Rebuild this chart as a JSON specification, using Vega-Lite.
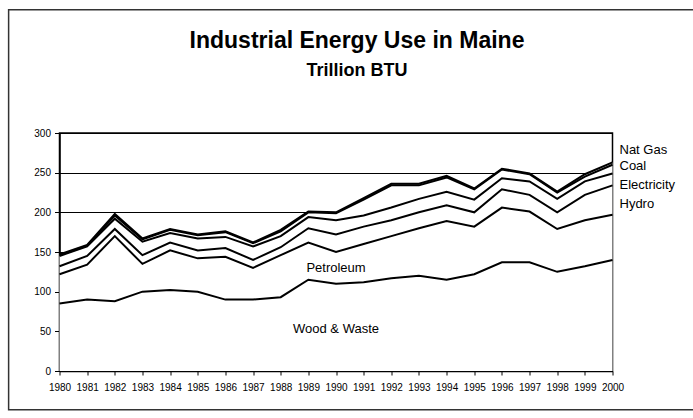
{
  "$schema": "https://vega.github.io/schema/vega-lite/v6.json",
  "width": 553,
  "height": 238,
  "autosize": {"type": "none"},
  "padding": {"left": 59.5, "top": 133, "right": 80.5, "bottom": 47},
  "background": "white",
  "title": {
    "text": "Industrial Energy Use in Maine",
    "subtitle": "Trillion BTU",
    "anchor": "middle",
    "dx": 21,
    "offset": -71,
    "font": "Liberation Sans",
    "fontSize": 23,
    "fontWeight": "bold",
    "color": "black",
    "subtitleFont": "Liberation Sans",
    "subtitleFontSize": 18,
    "subtitleFontWeight": "bold",
    "subtitleColor": "black",
    "subtitlePadding": 9
  },
  "datasets": {
    "energy": [
      {"year":1980,"series":"Wood & Waste","rank":1,"value":85},{"year":1980,"series":"Petroleum","rank":2,"value":37},{"year":1980,"series":"Hydro","rank":3,"value":10},{"year":1980,"series":"Electricity","rank":4,"value":13},{"year":1980,"series":"Coal","rank":5,"value":1},{"year":1980,"series":"Nat Gas","rank":6,"value":1},
      {"year":1981,"series":"Wood & Waste","rank":1,"value":90},{"year":1981,"series":"Petroleum","rank":2,"value":44},{"year":1981,"series":"Hydro","rank":3,"value":11},{"year":1981,"series":"Electricity","rank":4,"value":12},{"year":1981,"series":"Coal","rank":5,"value":1},{"year":1981,"series":"Nat Gas","rank":6,"value":1},
      {"year":1982,"series":"Wood & Waste","rank":1,"value":88},{"year":1982,"series":"Petroleum","rank":2,"value":82},{"year":1982,"series":"Hydro","rank":3,"value":9},{"year":1982,"series":"Electricity","rank":4,"value":13},{"year":1982,"series":"Coal","rank":5,"value":4},{"year":1982,"series":"Nat Gas","rank":6,"value":2},
      {"year":1983,"series":"Wood & Waste","rank":1,"value":100},{"year":1983,"series":"Petroleum","rank":2,"value":35},{"year":1983,"series":"Hydro","rank":3,"value":11},{"year":1983,"series":"Electricity","rank":4,"value":17},{"year":1983,"series":"Coal","rank":5,"value":3},{"year":1983,"series":"Nat Gas","rank":6,"value":1},
      {"year":1984,"series":"Wood & Waste","rank":1,"value":102},{"year":1984,"series":"Petroleum","rank":2,"value":50},{"year":1984,"series":"Hydro","rank":3,"value":10},{"year":1984,"series":"Electricity","rank":4,"value":12},{"year":1984,"series":"Coal","rank":5,"value":4},{"year":1984,"series":"Nat Gas","rank":6,"value":1},
      {"year":1985,"series":"Wood & Waste","rank":1,"value":100},{"year":1985,"series":"Petroleum","rank":2,"value":42},{"year":1985,"series":"Hydro","rank":3,"value":10},{"year":1985,"series":"Electricity","rank":4,"value":15},{"year":1985,"series":"Coal","rank":5,"value":4},{"year":1985,"series":"Nat Gas","rank":6,"value":1},
      {"year":1986,"series":"Wood & Waste","rank":1,"value":90},{"year":1986,"series":"Petroleum","rank":2,"value":54},{"year":1986,"series":"Hydro","rank":3,"value":11},{"year":1986,"series":"Electricity","rank":4,"value":14},{"year":1986,"series":"Coal","rank":5,"value":6},{"year":1986,"series":"Nat Gas","rank":6,"value":1},
      {"year":1987,"series":"Wood & Waste","rank":1,"value":90},{"year":1987,"series":"Petroleum","rank":2,"value":40},{"year":1987,"series":"Hydro","rank":3,"value":10},{"year":1987,"series":"Electricity","rank":4,"value":17},{"year":1987,"series":"Coal","rank":5,"value":4},{"year":1987,"series":"Nat Gas","rank":6,"value":1},
      {"year":1988,"series":"Wood & Waste","rank":1,"value":93},{"year":1988,"series":"Petroleum","rank":2,"value":53},{"year":1988,"series":"Hydro","rank":3,"value":10},{"year":1988,"series":"Electricity","rank":4,"value":14},{"year":1988,"series":"Coal","rank":5,"value":6},{"year":1988,"series":"Nat Gas","rank":6,"value":2},
      {"year":1989,"series":"Wood & Waste","rank":1,"value":115},{"year":1989,"series":"Petroleum","rank":2,"value":47},{"year":1989,"series":"Hydro","rank":3,"value":18},{"year":1989,"series":"Electricity","rank":4,"value":14},{"year":1989,"series":"Coal","rank":5,"value":6},{"year":1989,"series":"Nat Gas","rank":6,"value":1},
      {"year":1990,"series":"Wood & Waste","rank":1,"value":110},{"year":1990,"series":"Petroleum","rank":2,"value":40},{"year":1990,"series":"Hydro","rank":3,"value":22},{"year":1990,"series":"Electricity","rank":4,"value":18},{"year":1990,"series":"Coal","rank":5,"value":9},{"year":1990,"series":"Nat Gas","rank":6,"value":1},
      {"year":1991,"series":"Wood & Waste","rank":1,"value":112},{"year":1991,"series":"Petroleum","rank":2,"value":48},{"year":1991,"series":"Hydro","rank":3,"value":22},{"year":1991,"series":"Electricity","rank":4,"value":14},{"year":1991,"series":"Coal","rank":5,"value":20},{"year":1991,"series":"Nat Gas","rank":6,"value":2},
      {"year":1992,"series":"Wood & Waste","rank":1,"value":117},{"year":1992,"series":"Petroleum","rank":2,"value":53},{"year":1992,"series":"Hydro","rank":3,"value":20},{"year":1992,"series":"Electricity","rank":4,"value":16},{"year":1992,"series":"Coal","rank":5,"value":28},{"year":1992,"series":"Nat Gas","rank":6,"value":2},
      {"year":1993,"series":"Wood & Waste","rank":1,"value":120},{"year":1993,"series":"Petroleum","rank":2,"value":60},{"year":1993,"series":"Hydro","rank":3,"value":20},{"year":1993,"series":"Electricity","rank":4,"value":17},{"year":1993,"series":"Coal","rank":5,"value":17},{"year":1993,"series":"Nat Gas","rank":6,"value":2},
      {"year":1994,"series":"Wood & Waste","rank":1,"value":115},{"year":1994,"series":"Petroleum","rank":2,"value":74},{"year":1994,"series":"Hydro","rank":3,"value":20},{"year":1994,"series":"Electricity","rank":4,"value":17},{"year":1994,"series":"Coal","rank":5,"value":18},{"year":1994,"series":"Nat Gas","rank":6,"value":2},
      {"year":1995,"series":"Wood & Waste","rank":1,"value":122},{"year":1995,"series":"Petroleum","rank":2,"value":60},{"year":1995,"series":"Hydro","rank":3,"value":18},{"year":1995,"series":"Electricity","rank":4,"value":16},{"year":1995,"series":"Coal","rank":5,"value":13},{"year":1995,"series":"Nat Gas","rank":6,"value":1},
      {"year":1996,"series":"Wood & Waste","rank":1,"value":137},{"year":1996,"series":"Petroleum","rank":2,"value":69},{"year":1996,"series":"Hydro","rank":3,"value":23},{"year":1996,"series":"Electricity","rank":4,"value":14},{"year":1996,"series":"Coal","rank":5,"value":11},{"year":1996,"series":"Nat Gas","rank":6,"value":1},
      {"year":1997,"series":"Wood & Waste","rank":1,"value":137},{"year":1997,"series":"Petroleum","rank":2,"value":64},{"year":1997,"series":"Hydro","rank":3,"value":21},{"year":1997,"series":"Electricity","rank":4,"value":17},{"year":1997,"series":"Coal","rank":5,"value":9},{"year":1997,"series":"Nat Gas","rank":6,"value":1},
      {"year":1998,"series":"Wood & Waste","rank":1,"value":125},{"year":1998,"series":"Petroleum","rank":2,"value":54},{"year":1998,"series":"Hydro","rank":3,"value":21},{"year":1998,"series":"Electricity","rank":4,"value":17},{"year":1998,"series":"Coal","rank":5,"value":8},{"year":1998,"series":"Nat Gas","rank":6,"value":1},
      {"year":1999,"series":"Wood & Waste","rank":1,"value":132},{"year":1999,"series":"Petroleum","rank":2,"value":58},{"year":1999,"series":"Hydro","rank":3,"value":32},{"year":1999,"series":"Electricity","rank":4,"value":17},{"year":1999,"series":"Coal","rank":5,"value":6},{"year":1999,"series":"Nat Gas","rank":6,"value":3},
      {"year":2000,"series":"Wood & Waste","rank":1,"value":140},{"year":2000,"series":"Petroleum","rank":2,"value":57},{"year":2000,"series":"Hydro","rank":3,"value":37},{"year":2000,"series":"Electricity","rank":4,"value":15},{"year":2000,"series":"Coal","rank":5,"value":11},{"year":2000,"series":"Nat Gas","rank":6,"value":3}
    ],
    "sideLabels": [
      {"label":"Nat Gas","year":2000,"value":279},
      {"label":"Coal","year":2000,"value":258},
      {"label":"Electricity","year":2000,"value":235},
      {"label":"Hydro","year":2000,"value":211}
    ],
    "innerLabels": [
      {"label":"Petroleum","year":1990,"value":130},
      {"label":"Wood & Waste","year":1990,"value":53}
    ],
    "frame": [
      {"left":1978.16,"right":2003.5,"top":455.5,"bottom":-49}
    ]
  },
  "layer": [
    {
      "data": {"name": "energy"},
      "transform": [
        {"stack": "value", "groupby": ["year"], "sort": [{"field": "rank", "order": "ascending"}], "as": ["v0", "v1"]}
      ],
      "encoding": {
        "x": {"field": "year", "type": "quantitative",
          "scale": {"domain": [1980, 2000], "nice": false, "zero": false},
          "axis": {"values": [1980,1981,1982,1983,1984,1985,1986,1987,1988,1989,1990,1991,1992,1993,1994,1995,1996,1997,1998,1999,2000], "format": "d", "title": null, "grid": false, "labelFlush": false, "labelOverlap": false, "tickSize": 4, "labelPadding": 7}},
        "y": {"field": "v1", "type": "quantitative",
          "scale": {"domain": [0, 300], "nice": false},
          "axis": {"values": [0,50,100,150,200,250,300], "title": null, "grid": true, "labelOverlap": false, "tickSize": 5, "labelPadding": 4}},
        "detail": {"field": "series"}
      },
      "layer": [
        {
          "mark": {"type": "area", "fill": "white", "stroke": null, "opacity": 1},
          "encoding": {
            "y2": {"field": "v0"}
          }
        },
        {
          "mark": {"type": "line", "color": "black", "strokeWidth": 2, "strokeJoin": "miter"}
        }
      ]
    },
    {
      "data": {"name": "sideLabels"},
      "mark": {"type": "text", "align": "left", "baseline": "middle", "dx": 7, "font": "Liberation Sans", "fontSize": 13, "color": "black"},
      "encoding": {
        "x": {"field": "year", "type": "quantitative",
          "axis": {"values": [1980,1981,1982,1983,1984,1985,1986,1987,1988,1989,1990,1991,1992,1993,1994,1995,1996,1997,1998,1999,2000], "format": "d", "title": null, "grid": false, "labelFlush": false, "labelOverlap": false, "tickSize": 4, "labelPadding": 7}},
        "y": {"field": "value", "type": "quantitative",
          "axis": {"values": [0,50,100,150,200,250,300], "title": null, "grid": true, "labelOverlap": false, "tickSize": 5, "labelPadding": 4}},
        "text": {"field": "label"}
      }
    },
    {
      "data": {"name": "innerLabels"},
      "mark": {"type": "text", "align": "center", "baseline": "middle", "font": "Liberation Sans", "fontSize": 13, "color": "black"},
      "encoding": {
        "x": {"field": "year", "type": "quantitative",
          "axis": {"values": [1980,1981,1982,1983,1984,1985,1986,1987,1988,1989,1990,1991,1992,1993,1994,1995,1996,1997,1998,1999,2000], "format": "d", "title": null, "grid": false, "labelFlush": false, "labelOverlap": false, "tickSize": 4, "labelPadding": 7}},
        "y": {"field": "value", "type": "quantitative",
          "axis": {"values": [0,50,100,150,200,250,300], "title": null, "grid": true, "labelOverlap": false, "tickSize": 5, "labelPadding": 4}},
        "text": {"field": "label"}
      }
    },
    {
      "data": {"name": "frame"},
      "mark": {"type": "rect", "fill": null, "stroke": "#333333", "strokeWidth": 1.5, "clip": false},
      "encoding": {
        "x": {"field": "left", "type": "quantitative",
          "axis": {"values": [1980,1981,1982,1983,1984,1985,1986,1987,1988,1989,1990,1991,1992,1993,1994,1995,1996,1997,1998,1999,2000], "format": "d", "title": null, "grid": false, "labelFlush": false, "labelOverlap": false, "tickSize": 4, "labelPadding": 7}},
        "x2": {"field": "right"},
        "y": {"field": "top", "type": "quantitative",
          "axis": {"values": [0,50,100,150,200,250,300], "title": null, "grid": true, "labelOverlap": false, "tickSize": 5, "labelPadding": 4}},
        "y2": {"field": "bottom"}
      }
    }
  ],
  "config": {
    "view": {"stroke": "black", "strokeWidth": 1.5},
    "axis": {
      "labelFont": "Liberation Sans",
      "labelFontSize": 10,
      "labelColor": "black",
      "domainColor": "black",
      "domainWidth": 1.5,
      "tickColor": "black",
      "tickWidth": 1,
      "gridColor": "black",
      "gridWidth": 1,
      "gridOpacity": 1
    }
  }
}
